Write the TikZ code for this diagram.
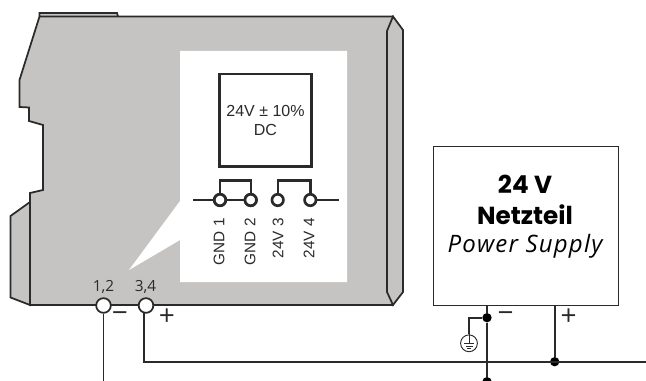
\documentclass[tikz,border=0pt]{standalone}
\usepackage{fontspec}
\setmainfont{Open Sans}
\newfontfamily\panelfont{Liberation Sans}
\newfontfamily\boldfont{Poppins}
\newfontfamily\engfont[LetterSpace=5]{Open Sans}
\definecolor{housing}{HTML}{C5C4C2}
\definecolor{wire}{HTML}{2A2A2A}
\tikzset{
 wireline/.style={draw=wire,line width=1.25pt},
 shell/.style={draw=wire,fill=housing,line width=1.3pt,line join=miter},
 terminal/.style={circle,draw=wire,fill=white,line width=1.3pt,minimum size=11pt,inner sep=0pt},
 contact/.style={circle,draw=wire,fill=white,line width=2pt,minimum size=8.6pt,inner sep=0pt},
 junction/.style={circle,fill=black,minimum size=7pt,inner sep=0pt},
 pinlabel/.style={rotate=90,anchor=east,font=\panelfont\fontsize{11.5}{13}\selectfont,text=wire,inner sep=0pt},
 polarity/.style={font=\fontsize{21}{21}\selectfont,text=wire,inner sep=0pt},
 termlabel/.style={font=\fontsize{11.5}{12}\selectfont,text=wire,inner sep=0pt}
}
\begin{document}
\begin{tikzpicture}[x=0.75pt,y=-0.75pt]
 \clip (0,0) rectangle (646,381);
 % housing
 \draw[shell] (39.5,16.5)--(39.5,13)--(117,13)--(118,16.5);
 \draw[shell] (30,202)--(10.5,216)--(10.5,297.5)--(30,305)--cycle;
 \draw[shell] (39.5,16.5)--(393,16.5)--(393,305)--(30,305)--(30,193)--(43,190)--(43,125)--(29,121)--(29,107.5)--(19.5,107)--(19.5,80)--cycle;
 \draw[shell] (393,16.5)--(403,30)--(403,292)--(393,305)--(387,292)--(387,31)--cycle;
 % label panel
 \fill[white] (180,51)--(347,51)--(347,282)--(180,282)--(180,240)--(129,270)--(180,201)--cycle;
 \node[draw=wire,line width=2pt,minimum width=69pt,minimum height=69.5pt,inner sep=0pt,
       align=center,font=\panelfont\fontsize{12}{14}\selectfont,text=wire] (psu) at (265.5,120.5) {24V ± 10\%\\DC};
 \coordinate (cl) at (193,200);
 \coordinate (cr) at (339,200);
 \node[contact] (gnda) at (220,200) {};
 \node[contact] (gndb) at (250.7,200) {};
 \node[contact] (pwra) at (277.7,200) {};
 \node[contact] (pwrb) at (310.3,200) {};
 \draw[wire,line width=1.8pt] (cl)--(gnda) (gnda)--(gndb) (pwrb)--(cr);
 \draw[wire,line width=1.8pt] (gnda.north)--++(0,-12.5)-|(gndb.north);
 \draw[wire,line width=1.8pt] (pwra.north)--++(0,-12.5)-|(pwrb.north);
 \node[contact] at (gnda) {};
 \node[contact] at (gndb) {};
 \node[pinlabel] at (219,218) {GND 1};
 \node[pinlabel] at (250,218) {GND 2};
 \node[pinlabel] at (278,218) {24V 3};
 \node[pinlabel] at (309,218) {24V 4};
 % terminals
 \node[terminal] (tneg) at (103.5,305.5) {};
 \node[terminal] (tpos) at (146,305.5) {};
 \node[termlabel] at (103.5,287) {1,2};
 \node[termlabel] at (145.5,287) {3,4};
 \node[polarity] at (120,317) {−};
 \node[polarity] at (167,317) {+};
 % supply
 \node[draw=wire,line width=1.2pt,minimum width=139pt,minimum height=119pt,inner sep=0pt] (supply) at (526,226) {};
 \node[font=\boldfont\bfseries\fontsize{18.5}{16}\selectfont,text=black] (volt) at (525,184) {24 V};
 \node[font=\boldfont\bfseries\fontsize{18.5}{16}\selectfont,text=black] (name) at (525,215) {Netzteil};
 \node[font=\engfont\itshape\fontsize{18}{16}\selectfont,text=black] (eng) at (525,246) {Power Supply};
 % wiring
 \coordinate (busr) at (646,361.7);
 \coordinate (negend) at (103.5,381);
 \coordinate (sneg) at (487,305);
 \coordinate (spos) at (554.7,305);
 \node[junction] (jgnd) at (487,317.7) {};
 \node[junction] (jpos) at (554.7,361.7) {};
 \node[junction] (jout) at (487,381.7) {};
 \node[circle,draw=wire,line width=0.7pt,minimum size=12.6pt,inner sep=0pt] (earth) at (469,343.3) {};
 \draw[wireline] (tneg)--(negend);
 \draw[wireline] (tpos.256)|-(busr);
 \draw[wireline] (sneg)--(jgnd)--(jout);
 \draw[wireline] (spos)--(jpos);
 \draw[wireline] (jgnd)-|(earth.north);
 \draw[wire,line width=0.6pt] (earth.north)--(469,343.5) (464,343.5)--(474,343.5) (465.5,346)--(472.5,346) (467,348.5)--(471,348.5);
 \node[polarity] at (505.7,317) {−};
 \node[polarity] at (568.7,317) {+};
\end{tikzpicture}
\end{document}
